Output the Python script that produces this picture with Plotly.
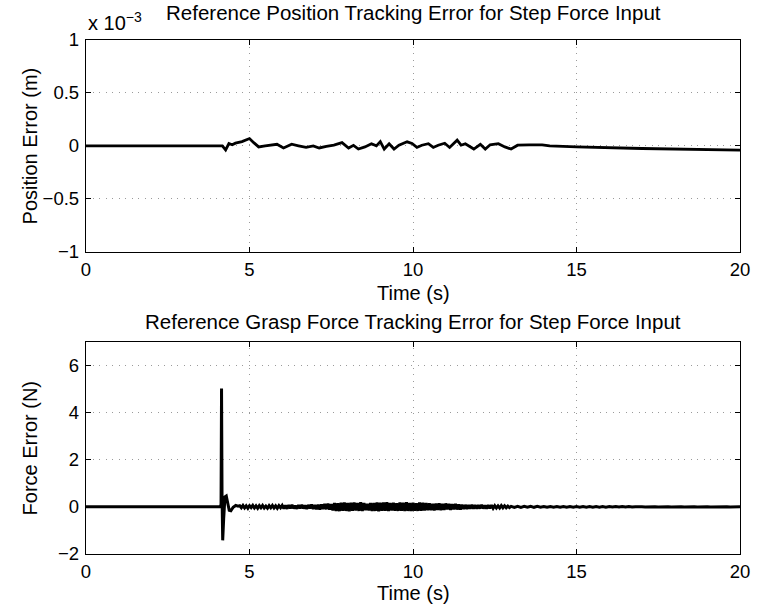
import numpy as np
import plotly.graph_objects as go

# ---------------- data ----------------
# Position tracking error (values in units of 1e-3 m)
pos_time = [0.00, 4.17, 4.27, 4.37, 4.47, 4.57, 4.77, 5.00, 5.13, 5.28,
            5.48, 5.84, 6.04, 6.29, 6.50, 6.73, 6.95, 7.13, 7.35, 7.58,
            7.83, 8.03, 8.18, 8.33, 8.53, 8.73, 8.88, 9.00, 9.12, 9.27,
            9.42, 9.57, 9.82, 9.97, 10.12, 10.27, 10.47, 10.62, 10.77, 10.97,
            11.12, 11.35, 11.47, 11.60, 11.86, 12.06, 12.21, 12.36, 12.61, 12.81,
            13.00, 13.20, 13.55, 13.95, 14.18, 15.00, 17.00, 19.00, 20.00]
pos_err_e3 = [0.000, 0.000, -0.038, 0.022, 0.010, 0.025, 0.040, 0.069, 0.030, -0.010,
              0.000, 0.015, -0.020, 0.015, 0.000, -0.015, 0.000, -0.020, -0.005, 0.006,
              0.030, -0.020, 0.005, -0.030, -0.010, 0.020, 0.000, 0.040, -0.030, 0.020,
              -0.030, 0.006, 0.038, 0.022, -0.015, 0.006, 0.020, -0.015, 0.006, 0.025,
              -0.015, 0.054, 0.006, 0.020, -0.030, 0.015, -0.030, 0.010, 0.020, -0.010,
              -0.030, 0.006, 0.010, 0.010, 0.000, -0.010, -0.025, -0.038, -0.040]

# Force tracking error (N): step transient
force_time_transient = [0.00, 4.10, 4.13, 4.145, 4.16, 4.18, 4.21, 4.25, 4.29, 4.33,
                        4.38, 4.43, 4.50, 4.58, 4.65]
force_err_transient = [0.00, 0.00, 0.10, 5.02, 0.50, -1.42, -0.50, 0.42, 0.46, 0.10,
                       -0.15, -0.17, -0.02, 0.06, 0.03]

# Force tracking error (N): noisy segment, sampled every 0.05 s from 4.70 s
noise_start, noise_step = 4.70, 0.05
force_err_noise = [
    0.05, -0.04, 0.06, -0.05, 0.04, -0.06, 0.05, -0.03, 0.06, -0.05,
    0.04, -0.06, 0.05, -0.04, 0.06, -0.05, 0.03, -0.06, 0.05, -0.04,
    0.06, -0.05, 0.04, -0.06, 0.05, -0.04, 0.06,
    -0.07, 0.06, -0.08, 0.07, -0.06, 0.08, -0.07, 0.05, -0.08, 0.07,
    -0.06, 0.08, -0.07, 0.06, -0.09, 0.08, -0.07, 0.10, -0.09, 0.08,
    -0.10, 0.09, -0.11, 0.10, -0.09, 0.12, -0.10, 0.13, -0.12, 0.11,
    -0.15, 0.16, -0.17, 0.15, -0.18, 0.17, -0.16, 0.18, -0.17, 0.16,
    -0.19, 0.17, -0.16, 0.18, -0.15, 0.16, -0.17, 0.19, -0.18, 0.16,
    -0.14, 0.13, -0.15, 0.16, -0.18, 0.16, -0.17, 0.18, -0.19, 0.17,
    -0.16, 0.18, -0.17, 0.19, -0.18, 0.16, -0.15, 0.17, -0.16, 0.15,
    -0.17, 0.18, -0.16, 0.17, -0.18, 0.19, -0.17, 0.16, -0.18, 0.17,
    -0.16, 0.15, -0.17, 0.18, -0.16, 0.17, -0.15, 0.16, -0.14, 0.15,
    -0.14, 0.13, -0.15, 0.14, -0.13, 0.15, -0.14, 0.12, -0.13, 0.14,
    -0.11, 0.12, -0.13, 0.11, -0.10, 0.12, -0.11, 0.10, -0.11, 0.09,
    -0.09, 0.08, -0.09, 0.07, -0.08, 0.09, -0.08, 0.07, -0.08, 0.07,
    -0.07, 0.08, -0.07, 0.06, -0.07, 0.07, -0.06, 0.07, -0.06, 0.05,
    -0.05, 0.04, -0.05, 0.05, -0.04, 0.04, -0.04, 0.03, -0.03, 0.02,
]

# Force tracking error (N): quiet tail, sampled every 0.1 s from 13.1 s
tail_start, tail_step = 13.10, 0.10
force_err_tail = [
    -0.025, 0.020, -0.022, 0.018, -0.020, 0.019, -0.021, 0.017, -0.019, 0.016,
    -0.018, 0.016, -0.017, 0.014, -0.016, 0.015, -0.016, 0.013, -0.015, 0.012,
    -0.014, 0.012, -0.014, 0.011, -0.013, 0.010, -0.012, 0.011, -0.012, 0.009,
    -0.011, 0.009, -0.010, 0.008, -0.010, 0.008, -0.009, 0.007, -0.009, 0.006,
    -0.008, 0.007, -0.008, 0.006, -0.007, 0.006, -0.007, 0.005, -0.007, 0.005,
    -0.006, 0.004, -0.006, 0.004, -0.006, 0.003, -0.005, 0.004, -0.005, 0.003,
    -0.004, 0.003, -0.004, 0.002, -0.004, 0.002, -0.003, 0.002, -0.003, -0.002,
]

x_ticks = [0, 5, 10, 15, 20]
pos_ticks = [-1, -0.5, 0, 0.5, 1]
pos_tick_text = ["\u22121", "\u22120.5", "0", "0.5", "1"]
force_ticks = [-2, 0, 2, 4, 6]
force_tick_text = ["\u22122", "0", "2", "4", "6"]

force_time = (force_time_transient
              + [round(noise_start + i * noise_step, 3) for i in range(len(force_err_noise))]
              + [round(tail_start + i * tail_step, 3) for i in range(len(force_err_tail))])
force_err = force_err_transient + force_err_noise + force_err_tail

# ---------------- layout helpers ----------------
W, H = 762, 610
L, R, T, B = 86, 17, 40, 56
PW, PH = W - L - R, H - T - B


def px_x(px):
    return (px - L) / PW


def px_y(py):
    return (H - B - py) / PH


FONT = "Liberation Sans, Arial, Helvetica, sans-serif"
FS_TICK = 18.5
FS_LABEL = 20
FS_TITLE = 20.5

fig = go.Figure()
fig.add_trace(go.Scatter(x=pos_time, y=pos_err_e3, mode="lines",
                         line=dict(color="black", width=2.8), xaxis="x", yaxis="y",
                         showlegend=False, hoverinfo="skip"))
fig.add_trace(go.Scatter(x=force_time, y=force_err, mode="lines",
                         line=dict(color="black", width=3), xaxis="x2", yaxis="y2",
                         showlegend=False, hoverinfo="skip"))

axis_common = dict(showline=True, linecolor="black", linewidth=1.3, mirror="ticks",
                   ticks="inside", ticklen=5, tickcolor="black", tickwidth=1,
                   showgrid=True, gridcolor="#9a9a9a", gridwidth=1, griddash="1px,5.5px",
                   zeroline=False, tickfont=dict(family=FONT, size=FS_TICK, color="black"))

top_lo = px_y(251.7)
bot_hi = px_y(341.7)

fig.update_layout(
    width=W, height=H, margin=dict(l=L, r=R, t=T, b=B),
    paper_bgcolor="white", plot_bgcolor="white",
    font=dict(family=FONT, size=FS_TICK, color="black"),
    xaxis=dict(domain=[0, 1], range=[0, 20], tickvals=x_ticks, anchor="y",
               ticklabelstandoff=1, **axis_common),
    yaxis=dict(domain=[top_lo, 1], range=[-1, 1], tickvals=pos_ticks, ticktext=pos_tick_text,
               anchor="x", ticklabelstandoff=2, **axis_common),
    xaxis2=dict(domain=[0, 1], range=[0, 20], tickvals=x_ticks, anchor="y2",
                ticklabelstandoff=1, **axis_common),
    yaxis2=dict(domain=[0, bot_hi], range=[-2, 7], tickvals=force_ticks, ticktext=force_tick_text,
                anchor="x2", ticklabelstandoff=2, **axis_common),
)

ann = [
    dict(text="Reference Position Tracking Error for Step Force Input", x=0.5, y=px_y(13), size=FS_TITLE),
    dict(text="Reference Grasp Force Tracking Error for Step Force Input", x=0.5, y=px_y(321), size=FS_TITLE),
    dict(text="Time (s)", x=0.5, y=px_y(292.5), size=FS_LABEL),
    dict(text="Time (s)", x=0.5, y=px_y(592.5), size=FS_LABEL),
    dict(text="Position Error (m)", x=px_x(30), y=px_y(146), textangle=-90, size=FS_LABEL),
    dict(text="Force Error (N)", x=px_x(30), y=px_y(448), textangle=-90, size=FS_LABEL),
]
for a in ann:
    size = a.pop("size")
    fig.add_annotation(xref="paper", yref="paper", showarrow=False,
                       xanchor="center", yanchor="middle",
                       font=dict(family=FONT, size=size, color="black"), **a)
fig.add_annotation(xref="paper", yref="paper", showarrow=False, x=0, y=px_y(22),
                   xanchor="left", yanchor="middle",
                   text="x 10<sup>\u22123</sup>", font=dict(family=FONT, size=FS_LABEL, color="black"))

fig.write_html("out.html")
